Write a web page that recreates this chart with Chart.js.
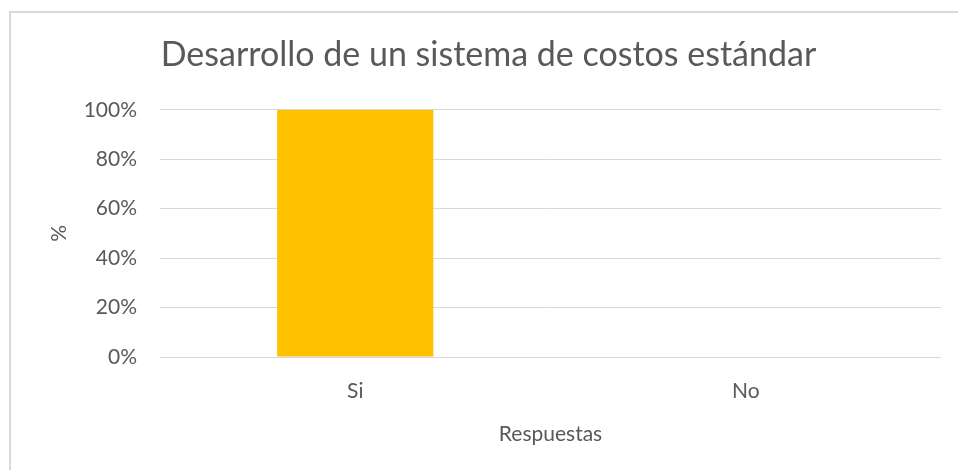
<!DOCTYPE html>
<html>
<head>
<meta charset="utf-8">
<script src="https://cdn.jsdelivr.net/npm/chart.js@4/dist/chart.umd.min.js"></script>
<style>
  html, body { margin: 0; padding: 0; background: #ffffff; overflow: hidden; width: 958px; height: 470px; }
  #frame { position: absolute; left: 9px; top: 11px; width: 1000px; height: 500px; border-left: 2px solid #d9d9d9; border-top: 2px solid #d9d9d9; box-sizing: border-box; }
  #wrap { position: absolute; left: 9px; top: 0px; width: 959px; height: 470px; }
</style>
</head>
<body>
<div id="frame"></div>
<div id="wrap"><canvas id="c" width="959" height="470"></canvas></div>
<script>
const chartTitle = "Desarrollo de un sistema de costos estándar";
const categories = ["Si", "No"];
const values = [100, 0];
const yTitle = "%";
const xTitle = "Respuestas";
const textColor = "#595959";
const FONT = "Lato, 'Open Sans', sans-serif";

new Chart(document.getElementById('c'), {
  type: 'bar',
  data: {
    labels: categories,
    datasets: [{
      data: values,
      backgroundColor: '#FFC000',
      borderWidth: 0,
      categoryPercentage: 1,
      barPercentage: 0.4
    }]
  },
  options: {
    responsive: false,
    animation: false,
    layout: { padding: { left: 27, right: 27, top: 0, bottom: 10 } },
    plugins: {
      legend: { display: false },
      tooltip: { enabled: false },
      title: {
        display: true,
        text: chartTitle,
        color: textColor,
        font: { family: FONT, size: 34, weight: 'normal' },
        padding: { top: 35, bottom: 34 }
      }
    },
    scales: {
      x: {
        grid: { display: false, drawTicks: false },
        border: { display: false },
        ticks: { color: textColor, font: { family: FONT, size: 21 }, padding: 22 },
        title: { display: true, text: xTitle, color: textColor, font: { family: FONT, size: 21 }, padding: { top: 6, bottom: 13 } },
        afterFit: s => { s.height = 103; }
      },
      y: {
        min: 0, max: 100,
        grid: { color: '#d9d9d9', lineWidth: 1, drawTicks: false },
        border: { display: false },
        ticks: { stepSize: 20, color: textColor, font: { family: FONT, size: 21 }, padding: 23, callback: v => v + '%' },
        title: { display: true, text: yTitle, color: textColor, font: { family: FONT, size: 21 }, padding: { top: 11, bottom: 10 } },
        afterFit: s => { s.width = 124; }
      }
    }
  }
});
</script>
</body>
</html>
